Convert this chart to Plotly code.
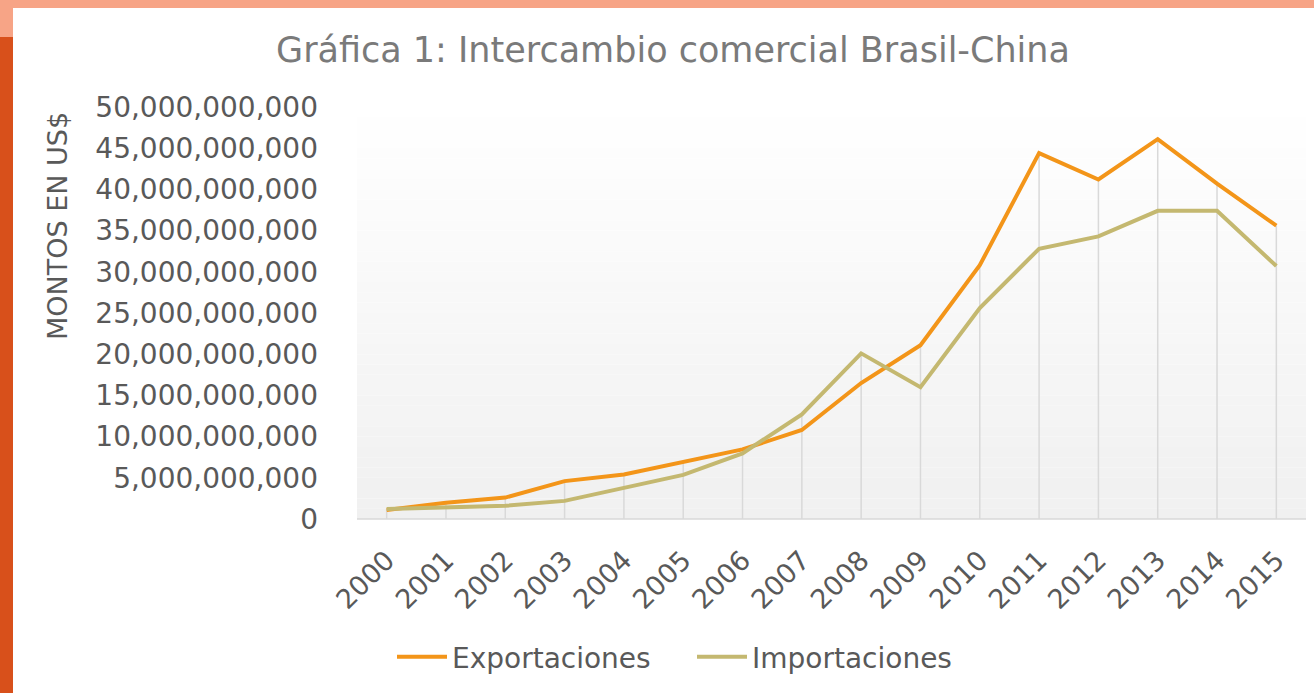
import plotly.graph_objects as go

years = [str(y) for y in range(2000, 2016)]
exportaciones = [1.1e9, 1.98e9, 2.6e9, 4.6e9, 5.4e9, 6.95e9, 8.45e9, 10.8e9, 16.5e9, 21.1e9,
                 30.8e9, 44.4e9, 41.2e9, 46.1e9, 40.7e9, 35.6e9]
importaciones = [1.2e9, 1.4e9, 1.6e9, 2.2e9, 3.8e9, 5.35e9, 7.97e9, 12.7e9, 20.1e9, 16.0e9,
                 25.6e9, 32.8e9, 34.3e9, 37.4e9, 37.4e9, 30.7e9]
series_names = ["Exportaciones", "Importaciones"]
title_text = "Gráfica 1: Intercambio comercial Brasil-China"
y_title = "MONTOS EN US$"

W, H = 1314, 693
L, R, T, B = 357, 1306, 107, 519

def px_x(p):
    return (p - L) / (R - L)

def px_y(p):
    return (B - p) / (B - T)

fig = go.Figure()

# drop lines from highest point to axis
dx, dy = [], []
for i, yr in enumerate(years):
    dx += [yr, yr, None]
    dy += [0, max(exportaciones[i], importaciones[i]), None]
fig.add_trace(go.Scatter(x=dx, y=dy, mode="lines", line=dict(color="#D9D9D9", width=1.5),
                         hoverinfo="skip", showlegend=False))

fig.add_trace(go.Scatter(x=years, y=exportaciones, name=series_names[0], mode="lines",
                         line=dict(color="#F39519", width=4)))
fig.add_trace(go.Scatter(x=years, y=importaciones, name=series_names[1], mode="lines",
                         line=dict(color="#C4B870", width=4)))

shapes = []
# gradient plot background
n = 40
for k in range(n):
    t = (k + 0.5) / n
    v = int(round(240 + (255 - 240) * t))
    shapes.append(dict(type="rect", xref="paper", yref="paper", x0=0, x1=1,
                       y0=k / n, y1=(k + 1) / n, fillcolor=f"rgb({v},{v},{v})",
                       line=dict(width=0), layer="below"))
# decorative frame bands
shapes.append(dict(type="rect", xref="paper", yref="paper", x0=px_x(0), x1=px_x(W),
                   y0=px_y(8), y1=px_y(0), fillcolor="#F7A486", line=dict(width=0), layer="below"))
shapes.append(dict(type="rect", xref="paper", yref="paper", x0=px_x(0), x1=px_x(13),
                   y0=px_y(37), y1=px_y(0), fillcolor="#F7A486", line=dict(width=0), layer="below"))
shapes.append(dict(type="rect", xref="paper", yref="paper", x0=px_x(0), x1=px_x(13),
                   y0=px_y(H), y1=px_y(37), fillcolor="#D8501B", line=dict(width=0), layer="below"))
# axis line
shapes.append(dict(type="line", xref="paper", yref="paper", x0=0, x1=1, y0=0, y1=0,
                   line=dict(color="#D9D9D9", width=1.5)))

font = "DejaVu Sans"
fig.update_layout(
    width=W, height=H,
    margin=dict(l=L, r=W - R, t=T, b=H - B, pad=0),
    paper_bgcolor="white", plot_bgcolor="white",
    title=dict(text=title_text, x=673 / W, xanchor="center", xref="container",
               y=1 - 50 / H, yanchor="middle", yref="container",
               font=dict(family=font, size=35, color="#7A7A7A")),
    shapes=shapes,
    showlegend=True,
    legend=dict(orientation="h", x=px_x(398 - 6), xanchor="left", y=px_y(657), yanchor="middle",
                font=dict(family=font, size=28, color="#595959"), bgcolor="rgba(0,0,0,0)",
                itemwidth=50, entrywidth=235, entrywidthmode="pixels"),
    annotations=[dict(text=y_title, xref="paper", yref="paper", x=px_x(57), y=px_y(226),
                      textangle=-90, showarrow=False, xanchor="center", yanchor="middle",
                      font=dict(family=font, size=27, color="#595959"))],
    hovermode=False,
)
fig.update_xaxes(type="category", range=[-0.5, len(years) - 0.5], showgrid=False,
                 showline=False, zeroline=False,
                 tickangle=-45, tickfont=dict(family=font, size=27, color="#595959"),
                 ticks="", ticklabelstandoff=19)
fig.update_yaxes(range=[0, 5e10], dtick=5e9, tickformat=",d", showgrid=False, zeroline=False,
                 showline=False, ticks="", ticklabelstandoff=38,
                 tickfont=dict(family=font, size=28, color="#595959"))

fig.write_html("out.html", config={"displayModeBar": False},
               post_script="document.body.style.margin='0px';")
